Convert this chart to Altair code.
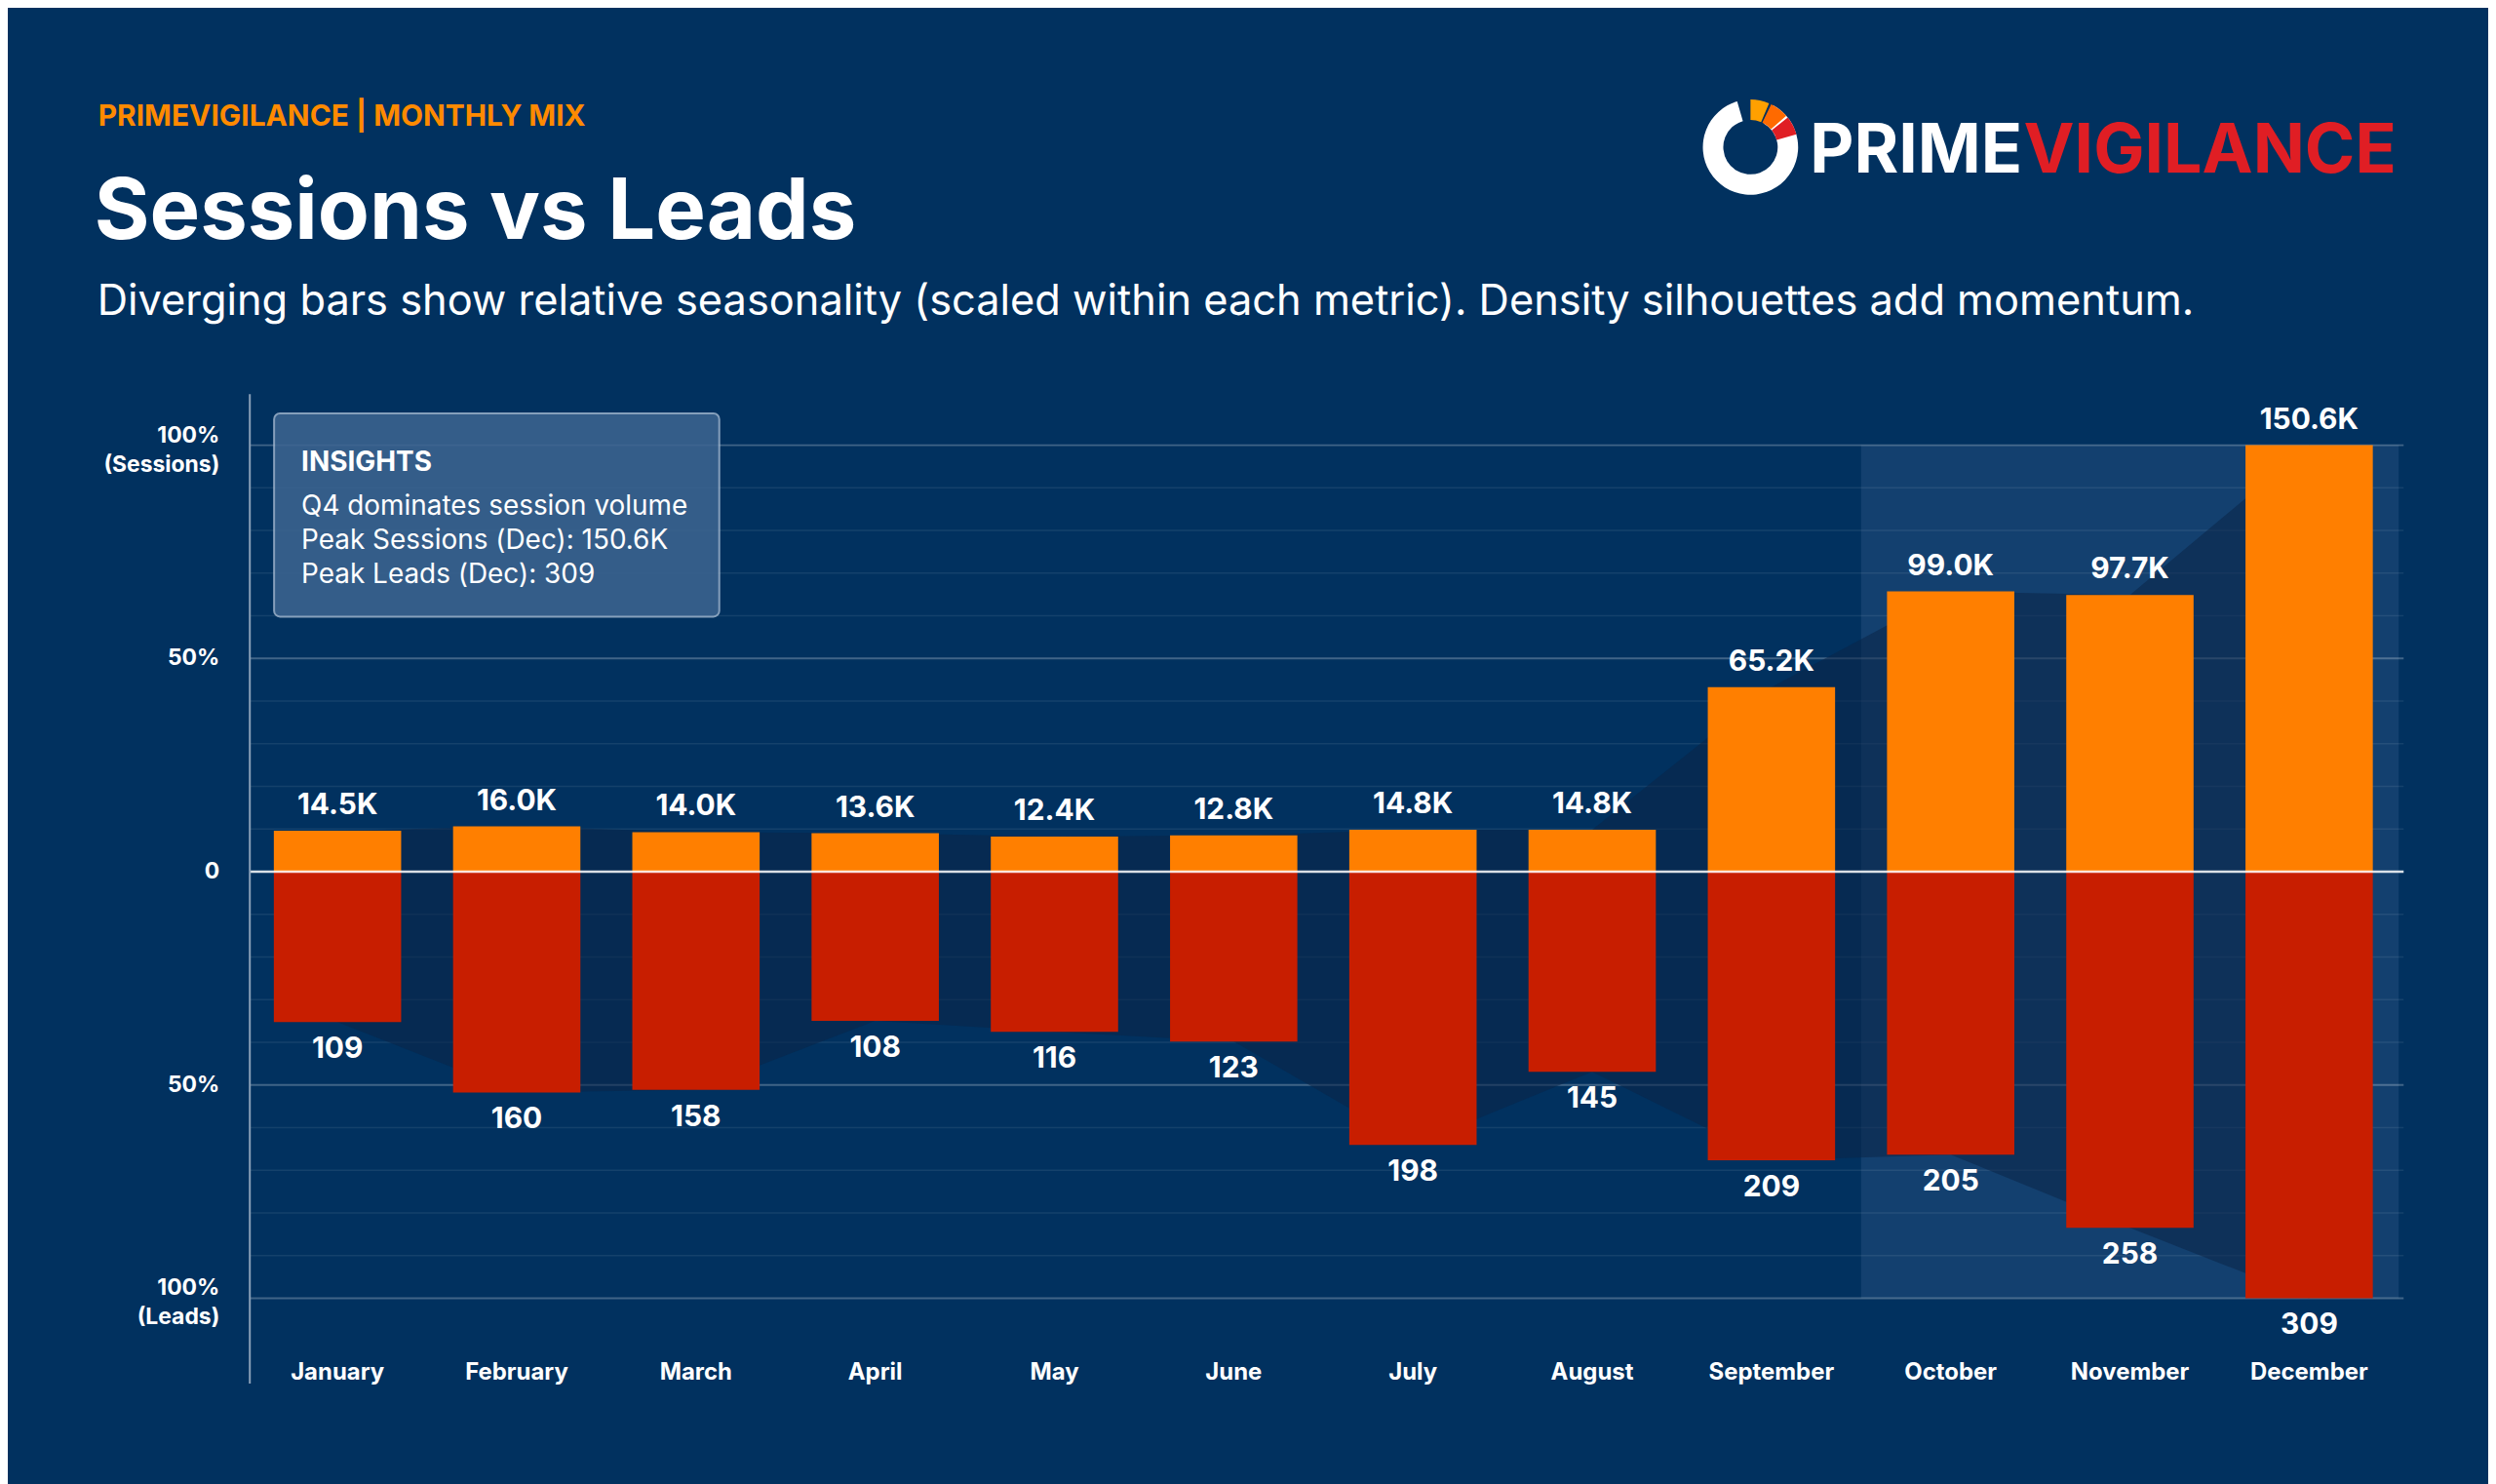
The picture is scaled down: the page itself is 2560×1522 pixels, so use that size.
import altair as alt
import pandas as pd

months = ["January","February","March","April","May","June","July","August","September","October","November","December"]
sessions_k = [14.5,16.0,14.0,13.6,12.4,12.8,14.8,14.8,65.2,99.0,97.7,150.6]
leads = [109,160,158,108,116,123,198,145,209,205,258,309]

smax, lmax = max(sessions_k), max(leads)
df = pd.DataFrame({
    "i": list(range(12)), "month": months,
    "s": [v / smax for v in sessions_k], "l": [-v / lmax for v in leads],
    "slab": [f"{v:.1f}K" for v in sessions_k], "llab": [str(v) for v in leads],
})
df["zero"] = 0.0
df["mpos"] = -1.175

W, H = 2223, 1018
BG = "#01315f"
FONT = "Inter"
X = alt.X("i:Q", scale=alt.Scale(domain=[-0.5, 11.5]), axis=None)
YS = alt.Scale(domain=[-1.2, 1.12], nice=False, zero=False)

grid_minor = pd.DataFrame({"g": [k / 10 for k in range(-10, 11) if k % 5 != 0]})
grid_major = pd.DataFrame({"g": [-1, -0.5, 0.5, 1]})

base = alt.Chart(df)

q4 = alt.Chart(pd.DataFrame({"a": [8.5], "b": [11.5], "y": [1.0], "y2": [-1.0]})).mark_rect(
    color="#2a5482", opacity=0.45).encode(
    x=alt.X("a:Q", scale=alt.Scale(domain=[-0.5, 11.5]), axis=None), x2="b:Q",
    y=alt.Y("y:Q", scale=YS, axis=None), y2="y2:Q")

minor = alt.Chart(grid_minor).mark_rule(color="#ffffff", opacity=0.08, strokeWidth=1.5).encode(
    x=alt.value(7), x2=alt.value(W), y=alt.Y("g:Q", scale=YS, axis=None))
major = alt.Chart(grid_major).mark_rule(color="#ffffff", opacity=0.25, strokeWidth=2).encode(
    x=alt.value(7), x2=alt.value(W), y=alt.Y("g:Q", scale=YS, axis=None))

sil_up = base.mark_area(color="#0b2447", opacity=0.55).encode(x=X, y=alt.Y("s:Q", scale=YS, axis=None), y2="zero:Q")
sil_dn = base.mark_area(color="#0b2447", opacity=0.55).encode(x=X, y=alt.Y("l:Q", scale=YS, axis=None), y2="zero:Q")

bars_s = base.mark_bar(color="#ff7f00", size=131).encode(x=X, y=alt.Y("s:Q", scale=YS, axis=None), y2="zero:Q")
bars_l = base.mark_bar(color="#c81e00", size=131).encode(x=X, y=alt.Y("l:Q", scale=YS, axis=None), y2="zero:Q")

zero = alt.Chart(pd.DataFrame({"g": [0]})).mark_rule(color="#ffffff", opacity=0.85, strokeWidth=2.5).encode(
    x=alt.value(7), x2=alt.value(W), y=alt.Y("g:Q", scale=YS, axis=None))

lab_s = base.mark_text(color="white", font=FONT, fontWeight="bold", fontSize=30, dy=-26).encode(
    x=X, y=alt.Y("s:Q", scale=YS, axis=None), text="slab:N")
lab_l = base.mark_text(color="white", font=FONT, fontWeight="bold", fontSize=30, dy=28).encode(
    x=X, y=alt.Y("l:Q", scale=YS, axis=None), text="llab:N")
lab_m = base.mark_text(color="white", font=FONT, fontWeight="bold", fontSize=24).encode(
    x=X, y=alt.Y("mpos:Q", scale=YS, axis=None), text="month:N")

ylab1 = pd.DataFrame({"g": [0.5, 0, -0.5], "t": ["50%", "0", "50%"]})
ylab2 = pd.DataFrame({"g": [1, -1], "t": ["100%\n(Sessions)", "100%\n(Leads)"]})
ylab_a = alt.Chart(ylab1).mark_text(color="white", font=FONT, fontWeight="bold", fontSize=23,
                                    align="right").encode(
    x=alt.value(-24), y=alt.Y("g:Q", scale=YS, axis=None), text="t:N")
ylab_b = alt.Chart(ylab2).mark_text(color="white", font=FONT, fontWeight="bold", fontSize=23,
                                    align="right", lineBreak="\n", lineHeight=30, dy=-10).encode(
    x=alt.value(-24), y=alt.Y("g:Q", scale=YS, axis=None), text="t:N")

def txt(t, x, y, size, color="white", weight="normal", align="left"):
    return alt.Chart(pd.DataFrame({"t": [t]})).mark_text(
        font=FONT, fontSize=size, color=color, fontWeight=weight, align=align,
        baseline="alphabetic").encode(x=alt.value(x), y=alt.value(y), text="t:N")

ox, oy = 250, 403
header = [
    txt("PRIMEVIGILANCE  |  MONTHLY MIX", 101 - ox, 127 - oy, 30, "#ff8a00", "bold"),
    txt("Sessions vs Leads", 97 - ox, 243 - oy, 87, "white", "bold"),
    txt("Diverging bars show relative seasonality (scaled within each metric). Density silhouettes add momentum.",
        100 - ox, 322 - oy, 43.5, "white"),
    txt("PRIME", 1862 - ox, 175 - oy, 70, "white", "bold"),
    txt("VIGILANCE", 2082 - ox, 175 - oy, 70, "#e01e24", "bold"),
]

def seg(a, b, c):
    return alt.Chart(pd.DataFrame({"k": [0]})).mark_arc(
        radius=49, radius2=28, theta=a, theta2=b, color=c).encode(
        x=alt.value(1801 - ox), y=alt.value(149 - oy))

ring = [seg(0.5, 6.0, "white"), seg(0.0, 0.4, "#ffa000"), seg(0.45, 0.85, "#ff6a00"), seg(0.9, 1.3, "#e01e24")]

box = alt.Chart(pd.DataFrame({"a": [0]})).mark_rect(
    fill="#3d6591", opacity=0.85, stroke="#9db3cc", strokeWidth=2, cornerRadius=6).encode(
    x=alt.value(282 - ox), x2=alt.value(740 - ox), y=alt.value(423 - oy), y2=alt.value(632 - oy))
box_t = [
    txt("INSIGHTS", 310 - ox, 482 - oy, 28, "white", "bold"),
    txt("Q4 dominates session volume", 310 - ox, 527 - oy, 28),
    txt("Peak Sessions (Dec): 150.6K", 310 - ox, 562 - oy, 28),
    txt("Peak Leads (Dec): 309", 310 - ox, 597 - oy, 28),
]

axisline = alt.Chart(pd.DataFrame({"a": [0]})).mark_rule(color="#8aa0b8", strokeWidth=2).encode(
    x=alt.value(7), y=alt.value(0), y2=alt.value(H))

chart = alt.layer(q4, minor, major, sil_up, sil_dn, bars_s, bars_l, zero, lab_s, lab_l, lab_m, ylab_a, ylab_b,
                  axisline, *ring, box, *box_t, *header).properties(
    width=W, height=H, background=BG,
    padding={"left": ox - 8, "top": oy - 8, "right": 2560 - ox - W, "bottom": 1522 - oy - H},
    autosize=alt.AutoSizeParams(type="none"),
).configure_view(stroke=None)

chart.save("out.html", embed_options={"renderer": "svg", "actions": False})
